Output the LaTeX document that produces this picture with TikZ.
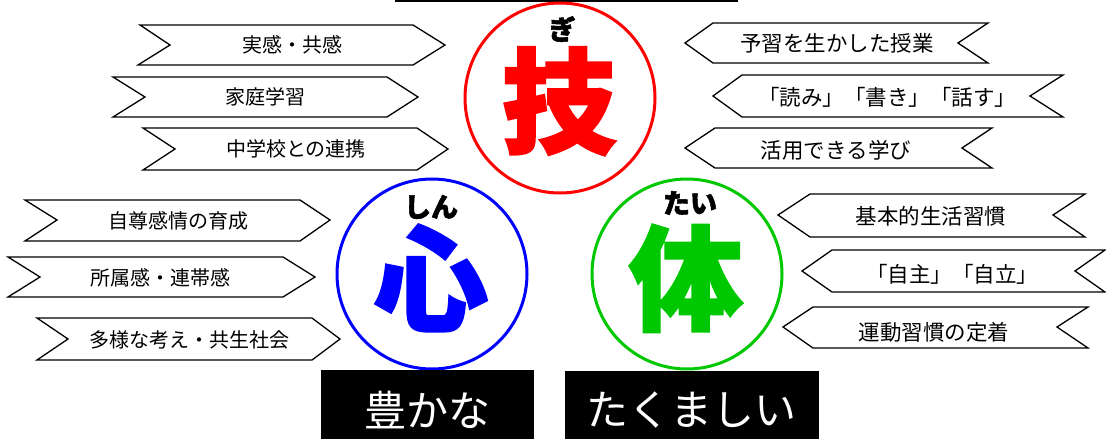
\documentclass[tikz,border=0pt]{standalone}
\usepackage{fontspec}
\setmainfont{Noto Sans CJK JP}
\newfontfamily\jp{Noto Sans CJK JP}
\newfontfamily\jpheavy{Noto Sans CJK JP}[BoldFeatures={FakeBold=2}]
\definecolor{cred}{RGB}{255,0,0}
\definecolor{cblue}{RGB}{0,0,255}
\definecolor{cgreen}{RGB}{0,200,0}
\tikzset{
  ribbon/.style={draw=black,line width=1.3pt,fill=white,line join=miter},
  lab/.style={font=\jp\fontsize{20}{22}\selectfont,inner sep=0pt},
  labr/.style={font=\jp\fontsize{21.5}{23}\selectfont,inner sep=0pt},
  ring/.style={line width=3pt,fill=white},
  ruby/.style={font=\jpheavy\bfseries\fontsize{27}{29}\selectfont,inner sep=0pt},
  big/.style={font=\jpheavy\bfseries\fontsize{114}{116}\selectfont,inner sep=0pt,
    text height=88pt,text depth=5pt},
  banner/.style={fill=black,draw=none},
  bantext/.style={text=white,font=\jp\fontsize{42}{44}\selectfont,inner sep=0pt}
}
\begin{document}
\begin{tikzpicture}[x=1pt,y=-1pt]
\useasboundingbox (0,0) rectangle (1106,439);
% top line
\coordinate (tl) at (395,1);
\coordinate (tr) at (738,1);
\draw[line width=1.5pt] (tl) -- (tr);
% left top ribbons (pointing right)
\draw[ribbon] (140,25) -- (413,25) -- (445,45) -- (413,65) -- (138,65) -- (170,45) -- cycle;
\draw[ribbon] (113,77) -- (387,77) -- (418,97) -- (387,117) -- (113,117) -- (145,97) -- cycle;
\draw[ribbon] (143,128) -- (417,128) -- (448,149) -- (417,170) -- (143,170) -- (175,149) -- cycle;
\node[lab] (l1) at (292,45) {実感・共感};
\node[lab] (l2) at (265,97) {家庭学習};
\node[lab] (l3) at (296,149) {中学校との連携};
% right top ribbons (pointing left)
\draw[ribbon] (685,43) -- (713,23) -- (988,23) -- (958,43) -- (988,63) -- (713,63) -- cycle;
\draw[ribbon] (713,96) -- (742,75) -- (1063,75) -- (1030,96) -- (1063,117) -- (742,117) -- cycle;
\draw[ribbon] (685,148) -- (715,128) -- (992,128) -- (962,148) -- (992,168) -- (715,168) -- cycle;
\node[labr] (r1) at (837,43) {予習を生かした授業};
\node[labr] (r2) at (887,97) {「読み」「書き」「話す」};
\node[labr] (r3) at (836,150) {活用できる学び};
% left lower ribbons
\draw[ribbon] (25,200) -- (300,200) -- (330,220) -- (300,241) -- (25,241) -- (57,220) -- cycle;
\draw[ribbon] (8,257) -- (283,257) -- (315,277) -- (283,297) -- (8,297) -- (40,277) -- cycle;
\draw[ribbon] (37,318) -- (312,318) -- (340,339) -- (312,360) -- (37,360) -- (68,339) -- cycle;
\node[lab] (m1) at (178,221) {自尊感情の育成};
\node[lab] (m2) at (160,278) {所属感・連帯感};
\node[lab] (m3) at (189,340) {多様な考え・共生社会};
% right lower ribbons
\draw[ribbon] (778,215) -- (810,194) -- (1085,194) -- (1053,215) -- (1085,237) -- (810,237) -- cycle;
\draw[ribbon] (802,271) -- (832,250) -- (1105,250) -- (1075,271) -- (1105,292) -- (832,292) -- cycle;
\draw[ribbon] (783,327) -- (813,307) -- (1088,307) -- (1057,327) -- (1088,348) -- (813,348) -- cycle;
\node[labr] (n1) at (931,216) {基本的生活習慣};
\node[labr] (n2) at (952,274) {「自主」「自立」};
\node[labr] (n3) at (934,332) {運動習慣の定着};
% circles
\draw[ring,draw=cred] (560,98) circle[radius=95];
\draw[ring,draw=cblue] (432,274) circle[radius=95];
\draw[ring,draw=cgreen] (687,274) circle[radius=95];
\node[ruby] (g) at (562,29) {ぎ};
\node[big,text=cred] (waza) at (559,103) {技};
\node[ruby] (s) at (431,207) {しん};
\node[big,text=cblue] (kokoro) at (431,280) {心};
\node[ruby] (t) at (690,203) {たい};
\node[big,text=cgreen] (karada) at (686,280) {体};
% banners
\fill[banner] (321,370) rectangle (534,439);
\fill[banner] (565,371) rectangle (819,439);
\node[bantext] (b1) at (427,410) {豊かな};
\node[bantext] (b2) at (691,410) {たくましい};
\end{tikzpicture}
\end{document}
